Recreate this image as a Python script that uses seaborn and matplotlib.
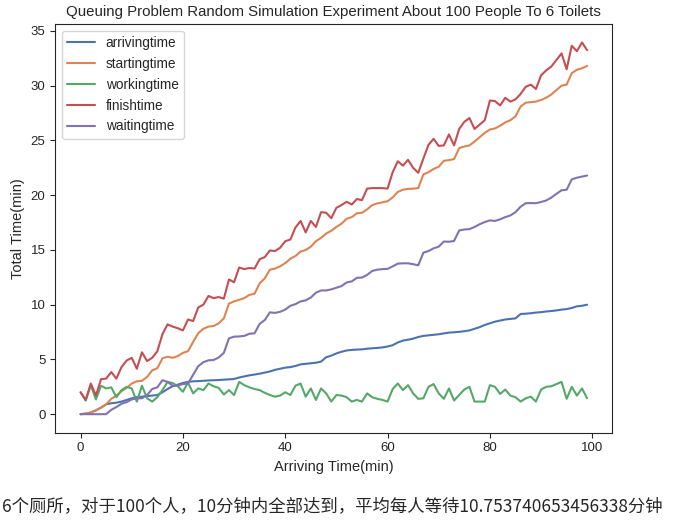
import pandas as pd
import matplotlib.pyplot as plt
import seaborn as sns

# person index 0..99 (x axis)
people = list(range(100))

arrivingtime = [
    0.00, 0.05, 0.15, 0.35, 0.60, 0.90, 1.00, 1.05, 1.15, 1.30,
    1.45, 1.55, 1.60, 1.65, 1.70, 1.75, 2.00, 2.30, 2.55, 2.70,
    2.85, 2.95, 3.00, 3.02, 3.05, 3.08, 3.10, 3.12, 3.15, 3.18,
    3.22, 3.35, 3.45, 3.55, 3.62, 3.70, 3.80, 3.90, 4.05, 4.15,
    4.25, 4.30, 4.40, 4.55, 4.60, 4.65, 4.70, 4.80, 5.20, 5.35,
    5.55, 5.70, 5.82, 5.87, 5.90, 5.92, 5.98, 6.02, 6.05, 6.10,
    6.18, 6.30, 6.55, 6.72, 6.80, 6.90, 7.05, 7.15, 7.20, 7.25,
    7.30, 7.38, 7.45, 7.48, 7.52, 7.58, 7.65, 7.80, 7.95, 8.15,
    8.30, 8.45, 8.55, 8.65, 8.70, 8.75, 9.15, 9.18, 9.22, 9.28,
    9.32, 9.38, 9.42, 9.48, 9.55, 9.60, 9.70, 9.85, 9.90, 10.00,
]

startingtime = [
    0.00, 0.05, 0.15, 0.35, 0.60, 0.90, 1.40, 1.70, 2.10, 2.40,
    2.80, 3.00, 3.05, 3.40, 4.00, 4.20, 5.10, 5.25, 5.15, 5.30,
    5.60, 5.75, 6.60, 7.40, 7.80, 8.00, 8.05, 8.30, 8.75, 10.10,
    10.30, 10.45, 10.60, 10.90, 11.00, 11.95, 12.40, 13.20, 13.30, 13.50,
    13.80, 14.20, 14.45, 14.85, 15.00, 15.30, 15.80, 16.10, 16.50, 16.75,
    17.10, 17.40, 17.85, 18.00, 18.35, 18.40, 18.70, 19.10, 19.25, 19.35,
    19.45, 19.80, 20.30, 20.50, 20.58, 20.60, 20.65, 21.90, 22.10, 22.40,
    22.60, 23.15, 23.20, 23.30, 24.30, 24.45, 24.55, 24.90, 25.30, 25.70,
    26.00, 26.10, 26.35, 26.65, 26.85, 27.20, 28.10, 28.45, 28.50, 28.55,
    28.70, 28.90, 29.20, 29.60, 30.00, 30.10, 31.15, 31.45, 31.60, 31.80,
]

workingtime = [
    2.00, 1.25, 2.65, 1.35, 2.60, 2.35, 2.45, 1.55, 2.20, 2.50,
    2.35, 1.15, 2.60, 1.45, 1.15, 1.55, 2.20, 2.95, 2.85, 2.55,
    2.05, 2.90, 1.90, 2.35, 2.20, 2.80, 2.55, 2.40, 1.80, 2.20,
    1.75, 2.95, 2.65, 2.45, 2.30, 2.20, 1.95, 1.75, 1.60, 1.70,
    2.00, 1.75, 2.60, 2.80, 1.60, 2.35, 1.30, 2.35, 1.90, 1.15,
    1.75, 1.70, 1.55, 1.15, 1.30, 1.15, 1.90, 1.55, 1.40, 1.30,
    1.15, 2.30, 2.80, 2.20, 2.65, 1.90, 1.40, 1.45, 2.50, 2.75,
    1.90, 1.40, 2.35, 1.25, 1.75, 2.25, 2.50, 1.15, 1.15, 1.15,
    2.65, 2.50, 1.85, 2.25, 1.70, 1.55, 1.15, 1.45, 1.60, 1.15,
    2.25, 2.50, 2.55, 2.75, 2.95, 1.40, 2.50, 1.70, 2.35, 1.45,
]

finishtime = [
    2.00, 1.30, 2.80, 1.70, 3.20, 3.25, 3.85, 3.25, 4.30, 4.90,
    5.15, 4.15, 5.65, 4.85, 5.15, 5.75, 7.30, 8.20, 8.00, 7.85,
    7.65, 8.65, 8.50, 9.75, 10.00, 10.80, 10.60, 10.70, 10.55, 12.30,
    12.05, 13.40, 13.25, 13.35, 13.30, 14.15, 14.35, 14.95, 14.90, 15.20,
    15.80, 15.95, 17.05, 17.65, 16.60, 17.65, 17.10, 18.45, 18.40, 17.90,
    18.85, 19.10, 19.40, 19.15, 19.65, 19.55, 20.60, 20.65, 20.65, 20.65,
    20.60, 22.10, 23.10, 22.70, 23.23, 22.50, 22.05, 23.35, 24.60, 25.15,
    24.50, 24.55, 25.55, 24.55, 26.05, 26.70, 27.05, 26.05, 26.45, 26.85,
    28.65, 28.60, 28.20, 28.90, 28.55, 28.75, 29.25, 29.90, 30.10, 29.70,
    30.95, 31.40, 31.75, 32.35, 32.95, 31.50, 33.65, 33.15, 33.95, 33.25,
]

waitingtime = [
    0.00, 0.00, 0.00, 0.00, 0.00, 0.00, 0.40, 0.65, 0.95, 1.10,
    1.35, 1.45, 1.45, 1.75, 2.30, 2.45, 3.10, 2.95, 2.60, 2.60,
    2.75, 2.80, 3.60, 4.38, 4.75, 4.92, 4.95, 5.18, 5.60, 6.92,
    7.08, 7.10, 7.15, 7.35, 7.38, 8.25, 8.60, 9.30, 9.25, 9.35,
    9.55, 9.90, 10.05, 10.30, 10.40, 10.65, 11.10, 11.30, 11.30, 11.40,
    11.55, 11.70, 12.03, 12.13, 12.45, 12.48, 12.72, 13.08, 13.20, 13.25,
    13.27, 13.50, 13.75, 13.78, 13.78, 13.70, 13.60, 14.75, 14.90, 15.15,
    15.30, 15.77, 15.75, 15.82, 16.78, 16.87, 16.90, 17.10, 17.35, 17.55,
    17.70, 17.65, 17.80, 18.00, 18.15, 18.45, 18.95, 19.27, 19.28, 19.27,
    19.38, 19.52, 19.78, 20.12, 20.45, 20.50, 21.45, 21.60, 21.70, 21.80,
]

df = pd.DataFrame({
    'arrivingtime': arrivingtime,
    'startingtime': startingtime,
    'workingtime': workingtime,
    'finishtime': finishtime,
    'waitingtime': waitingtime,
}, index=people)

sns.set_style("ticks")
sns.set_palette("deep")
plt.rcParams['font.family'] = ['Liberation Sans', 'DejaVu Sans']

fig = plt.figure(figsize=(6.82, 5.31), dpi=100)
ax = fig.add_axes([0.081, 0.185, 0.817, 0.770])

for col in df.columns:
    sns.lineplot(x=df.index, y=df[col], label=col, ax=ax, linewidth=1.5)

ax.set_title("Queuing Problem Random Simulation Experiment About 100 People To 6 Toilets",
             fontsize=10.8, color='.15')
ax.set_xlabel("Arriving Time(min)", fontsize=10.5, color='.15')
ax.set_ylabel("Total Time(min)", fontsize=10.5, color='.15')
ax.tick_params(labelsize=9.5)
ax.legend(loc='upper left', fontsize=9.8)

# printed result line under the chart
fig.text(0.003, 0.045, "6个厕所，对于100个人，10分钟内全部达到，平均每人等待10.753740653456338分钟",
         family=['Noto Sans CJK SC', 'DejaVu Sans'], fontsize=12.5, va='center')

fig.savefig("out.png", dpi=100)
